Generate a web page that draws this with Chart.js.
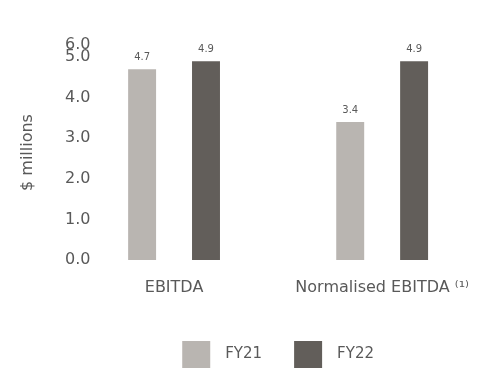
<!DOCTYPE html>
<html>
<head>
<meta charset="utf-8">
<script src="https://cdn.jsdelivr.net/npm/chart.js@4.4.1/dist/chart.umd.min.js"></script>
<style>
  html, body { margin: 0; padding: 0; background: #fff; overflow: hidden; }
  #wrap { width: 487px; height: 369px; position: relative; }
</style>
</head>
<body>
<div id="wrap"><canvas id="ebitdaChart"></canvas></div>
<script>
const categories = ['EBITDA', 'Normalised EBITDA \u207D\u00B9\u207E'];
const fy21Values = [4.7, 3.4];
const fy22Values = [4.9, 4.9];
const seriesNames = ['FY21', 'FY22'];
const yTicks = [0, 1, 2, 3, 4, 5, 6];
const yMax = 5.3;

const textColor = '#595959';
const fontFamily = '"DejaVu Sans", sans-serif';

// small inline plugin for the value labels above the bars
const barValueLabels = {
    id: 'barValueLabels',
    afterDatasetsDraw(chart) {
        const ctx = chart.ctx;
        ctx.save();
        ctx.font = '10px ' + fontFamily;
        ctx.fillStyle = textColor;
        ctx.textAlign = 'center';
        ctx.textBaseline = 'alphabetic';
        chart.data.datasets.forEach((ds, i) => {
            chart.getDatasetMeta(i).data.forEach((bar, j) => {
                ctx.fillText(ds.data[j].toFixed(1), bar.x, bar.y - 9);
            });
        });
        ctx.restore();
    }
};

const ctx = document.getElementById('ebitdaChart').getContext('2d');
new Chart(ctx, {
    type: 'bar',
    data: {
        labels: categories,
        datasets: [{
            label: seriesNames[0],
            data: fy21Values,
            backgroundColor: '#b9b5b1',
            borderWidth: 0,
            categoryPercentage: 0.614,
            barPercentage: 0.4375
        }, {
            label: seriesNames[1],
            data: fy22Values,
            backgroundColor: '#625e5a',
            borderWidth: 0,
            categoryPercentage: 0.614,
            barPercentage: 0.4375
        }]
    },
    options: {
        responsive: true,
        maintainAspectRatio: false,
        animation: false,
        layout: { padding: { top: 45, left: 0, right: 0, bottom: -9 } },
        plugins: {
            tooltip: { enabled: false },
            legend: {
                position: 'bottom',
                fullSize: false,
                labels: {
                    boxWidth: 28,
                    boxHeight: 27,
                    padding: 32,
                    color: textColor,
                    font: { family: fontFamily, size: 15 },
                    generateLabels: (chart) => {
                        const items = Chart.defaults.plugins.legend.labels.generateLabels(chart);
                        items.forEach(it => { it.text = '\u2002' + it.text; it.lineWidth = 0; });
                        return items;
                    }
                }
            }
        },
        scales: {
            x: {
                grid: { display: false, drawTicks: false },
                border: { display: false },
                ticks: {
                    color: textColor,
                    font: { family: fontFamily, size: 16 },
                    padding: 18,
                    autoSkip: false,
                    maxRotation: 0,
                    minRotation: 0
                },
                afterFit: (scale) => { scale.height = 49; }
            },
            y: {
                min: 0,
                max: yMax,
                grid: { display: false, drawTicks: false },
                border: { display: false },
                afterBuildTicks: (axis) => {
                    axis.ticks = yTicks.map(v => ({ value: Math.min(v, yMax) }));
                },
                ticks: {
                    color: textColor,
                    font: { family: fontFamily, size: 16 },
                    mirror: true,
                    padding: -5,
                    autoSkip: false,
                    callback: (value, index) => yTicks[index].toFixed(1)
                },
                title: {
                    display: true,
                    text: '$ millions',
                    color: textColor,
                    font: { family: fontFamily, size: 16 },
                    padding: { top: 18, bottom: 0 }
                },
                afterFit: (scale) => { scale.width = 70; }
            }
        }
    },
    plugins: [barValueLabels]
});
</script>
</body>
</html>
